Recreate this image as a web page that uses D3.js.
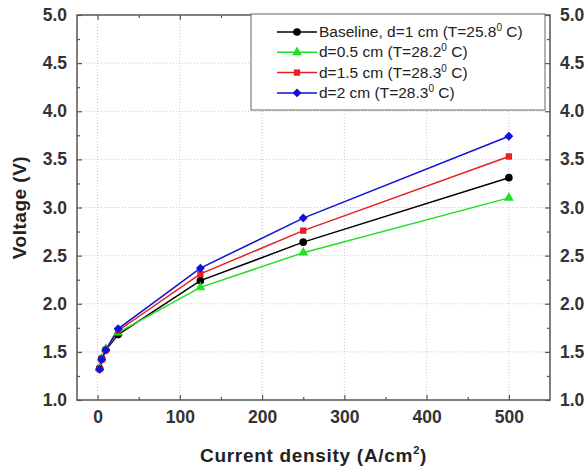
<!DOCTYPE html>
<html>
<head>
<meta charset="utf-8">
<script src="https://cdn.jsdelivr.net/npm/d3@7"></script>
<style>
  body { margin: 0; background: #fff; }
  svg { font-family: "Liberation Sans", Arial, sans-serif; }
  .axis-title { font-size: 19px; font-weight: bold; fill: #222; }
  .legend-text { font-size: 15.5px; fill: #222; }
</style>
</head>
<body>
<svg width="585" height="472"></svg>
<script>
// data
const currentDensity = [2.5, 5, 10, 25, 125, 250, 500];
const baseline = [1.33, 1.43, 1.52, 1.68, 2.24, 2.64, 3.31];
const d05 = [1.33, 1.43, 1.53, 1.70, 2.17, 2.53, 3.10];
const d15 = [1.32, 1.42, 1.52, 1.72, 2.31, 2.76, 3.53];
const d2 = [1.32, 1.42, 1.52, 1.74, 2.37, 2.89, 3.74];
const seriesNames = [
  ["Baseline, d=1 cm (T=25.8", " C)"],
  ["d=0.5 cm (T=28.2", " C)"],
  ["d=1.5 cm (T=28.3", " C)"],
  ["d=2 cm (T=28.3", " C)"]
];
const xTicks = [0, 100, 200, 300, 400, 500];
const yTicks = [1.0, 1.5, 2.0, 2.5, 3.0, 3.5, 4.0, 4.5, 5.0];

const series = [
  { values: baseline, color: "#000000", shape: d3.symbolCircle, size: 46, rot: 0 },
  { values: d05, color: "#22e022", shape: d3.symbolTriangle, size: 42, rot: 0 },
  { values: d15, color: "#e82020", shape: d3.symbolSquare, size: 40, rot: 0 },
  { values: d2, color: "#1010d8", shape: d3.symbolSquare, size: 40, rot: 45 }
];

const svg = d3.select("svg");
const plotLeft = 77, plotRight = 550, plotTop = 15, plotBottom = 400;

const x = d3.scaleLinear().domain([-25, 550]).range([plotLeft, plotRight]);
const y = d3.scaleLinear().domain([1, 5]).range([plotBottom, plotTop]);

// grid (dotted)
svg.append("g").selectAll("line")
  .data(xTicks)
  .join("line")
  .attr("x1", d => x(d)).attr("x2", d => x(d))
  .attr("y1", plotTop).attr("y2", plotBottom)
  .attr("stroke", "#c8c8c8").attr("stroke-width", 1)
  .attr("stroke-dasharray", "1,2");

svg.append("g").selectAll("line")
  .data(yTicks.slice(1, -1))
  .join("line")
  .attr("x1", plotLeft).attr("x2", plotRight)
  .attr("y1", d => y(d)).attr("y2", d => y(d))
  .attr("stroke", "#c8c8c8").attr("stroke-width", 1)
  .attr("stroke-dasharray", "1,2");

// axes (ticks pointing inward)
const xMinor = d3.range(50, 550, 100);
const yMinor = d3.range(1.25, 5, 0.5);

function styleAxis(g) {
  g.select(".domain").remove();
  g.selectAll(".tick line").attr("stroke", "#555").attr("stroke-width", 1.2);
  g.selectAll(".tick text")
    .attr("fill", "#333")
    .attr("font-family", "'Liberation Sans', Arial, sans-serif")
    .attr("font-weight", "bold")
    .attr("font-size", 17.5);
}

svg.append("g")
  .attr("transform", `translate(0,${plotBottom})`)
  .call(d3.axisBottom(x).tickValues(xTicks).tickSizeInner(-5).tickPadding(11).tickFormat(d3.format("d")))
  .call(styleAxis);
svg.append("g")
  .attr("transform", `translate(0,${plotBottom})`)
  .call(d3.axisBottom(x).tickValues(xMinor).tickSizeInner(-3).tickFormat(""))
  .call(styleAxis);
svg.append("g")
  .attr("transform", `translate(0,${plotTop})`)
  .call(d3.axisTop(x).tickValues(xTicks).tickSizeInner(-5).tickFormat(""))
  .call(styleAxis);
svg.append("g")
  .attr("transform", `translate(0,${plotTop})`)
  .call(d3.axisTop(x).tickValues(xMinor).tickSizeInner(-3).tickFormat(""))
  .call(styleAxis);

svg.append("g")
  .attr("transform", `translate(${plotLeft},0)`)
  .call(d3.axisLeft(y).tickValues(yTicks).tickSizeInner(-5).tickPadding(10).tickFormat(d3.format(".1f")))
  .call(styleAxis);
svg.append("g")
  .attr("transform", `translate(${plotLeft},0)`)
  .call(d3.axisLeft(y).tickValues(yMinor).tickSizeInner(-3).tickFormat(""))
  .call(styleAxis);
svg.append("g")
  .attr("transform", `translate(${plotRight},0)`)
  .call(d3.axisRight(y).tickValues(yTicks).tickSizeInner(-5).tickPadding(10).tickFormat(d3.format(".1f")))
  .call(styleAxis);
svg.append("g")
  .attr("transform", `translate(${plotRight},0)`)
  .call(d3.axisRight(y).tickValues(yMinor).tickSizeInner(-3).tickFormat(""))
  .call(styleAxis);

// frame
svg.append("rect")
  .attr("x", plotLeft).attr("y", plotTop)
  .attr("width", plotRight - plotLeft).attr("height", plotBottom - plotTop)
  .attr("fill", "none").attr("stroke", "#555").attr("stroke-width", 1.5);

// lines and markers
const line = d3.line()
  .x((d, i) => x(currentDensity[i]))
  .y(d => y(d));

series.forEach(s => {
  svg.append("path")
    .datum(s.values)
    .attr("d", line)
    .attr("fill", "none")
    .attr("stroke", s.color)
    .attr("stroke-width", 1.5);
});
series.forEach(s => {
  svg.append("g").selectAll("path")
    .data(s.values)
    .join("path")
    .attr("transform", (d, i) => `translate(${x(currentDensity[i])},${y(d)}) rotate(${s.rot})`)
    .attr("d", d3.symbol().type(s.shape).size(s.size))
    .attr("fill", s.color);
});

// legend
const legend = svg.append("g").attr("transform", "translate(251,14)");
legend.append("rect")
  .attr("width", 294).attr("height", 96)
  .attr("fill", "#fff").attr("stroke", "#666").attr("stroke-width", 1);

series.forEach((s, i) => {
  const ly = 18 + i * 20.3;
  legend.append("line")
    .attr("x1", 26).attr("x2", 66)
    .attr("y1", ly).attr("y2", ly)
    .attr("stroke", s.color).attr("stroke-width", 1.5);
  legend.append("path")
    .attr("transform", `translate(46,${ly}) rotate(${s.rot})`)
    .attr("d", d3.symbol().type(s.shape).size(s.size))
    .attr("fill", s.color);
  const t = legend.append("text")
    .attr("class", "legend-text")
    .attr("x", 68).attr("y", ly + 5);
  t.append("tspan").text(seriesNames[i][0]);
  t.append("tspan").attr("font-size", 10).attr("dy", -6).text("0");
  t.append("tspan").attr("dy", 6).text(seriesNames[i][1]);
});

// axis titles
const xTitle = svg.append("text")
  .attr("class", "axis-title")
  .attr("x", (plotLeft + plotRight) / 2)
  .attr("y", 462)
  .attr("letter-spacing", 0.7)
  .attr("text-anchor", "middle");
xTitle.append("tspan").text("Current density (A/cm");
xTitle.append("tspan").attr("font-size", 11).attr("dy", -8).text("2");
xTitle.append("tspan").attr("dy", 8).text(")");

svg.append("text")
  .attr("class", "axis-title")
  .attr("transform", `translate(26,${(plotTop + plotBottom) / 2}) rotate(-90)`)
  .attr("text-anchor", "middle")
  .attr("letter-spacing", 0.5)
  .text("Voltage (V)");
</script>
</body>
</html>
